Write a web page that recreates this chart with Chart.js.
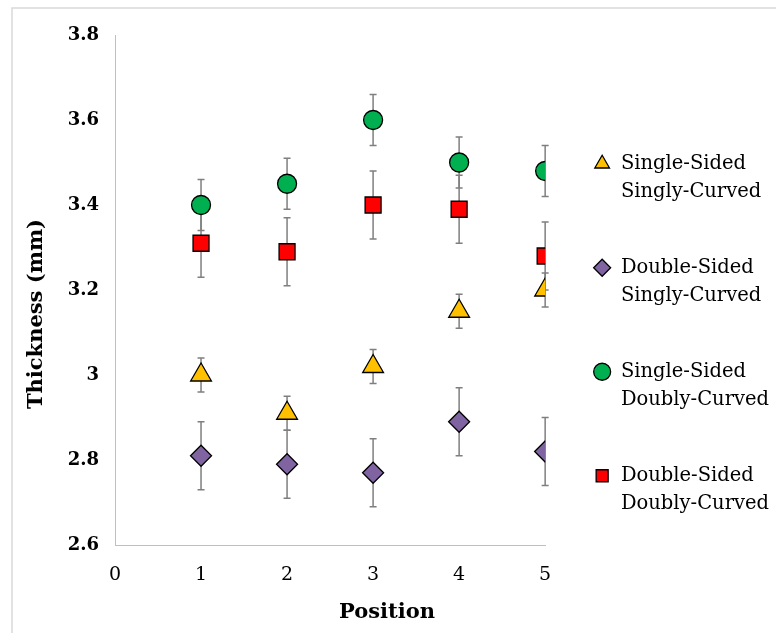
<!DOCTYPE html>
<html>
<head>
<meta charset="utf-8">
<script src="https://cdn.jsdelivr.net/npm/chart.js@4.4.0/dist/chart.umd.min.js"></script>
<style>
  html, body { margin: 0; padding: 0; background: #fff; }
  #wrap { width: 776px; height: 633px; }
</style>
</head>
<body>
<div id="wrap"><canvas id="chart" width="776" height="633"></canvas></div>
<script>
const positions = [1, 2, 3, 4, 5];

const ssscMean = [3.00, 2.91, 3.02, 3.15, 3.20];
const ssscErr = [0.04, 0.04, 0.04, 0.04, 0.04];
const dsscMean = [2.81, 2.79, 2.77, 2.89, 2.82];
const dsscErr = [0.08, 0.08, 0.08, 0.08, 0.08];
const ssdcMean = [3.40, 3.45, 3.60, 3.50, 3.48];
const ssdcErr = [0.06, 0.06, 0.06, 0.06, 0.06];
const dsdcMean = [3.31, 3.29, 3.40, 3.39, 3.28];
const dsdcErr = [0.08, 0.08, 0.08, 0.08, 0.08];

const xTicks = [0, 1, 2, 3, 4, 5];
const yTicks = [2.6, 2.8, 3.0, 3.2, 3.4, 3.6, 3.8];

const FONT = '"DejaVu Serif", Cambria, serif';

const toPoints = (means, errs) => means.map((m, i) => ({ x: positions[i], y: m, err: errs[i] }));

const series = (label, means, errs, style, color, radius) => ({
  label: label,
  data: toPoints(means, errs),
  pointStyle: style,
  backgroundColor: color,
  borderColor: '#000',
  borderWidth: 1.3,
  pointRadius: radius,
  pointHoverRadius: radius,
  showLine: false
});

// error bars drawn under the markers
const errorBars = {
  id: 'errorBars',
  beforeDatasetsDraw(chart) {
    const { ctx, scales: { x, y } } = chart;
    ctx.save();
    ctx.strokeStyle = '#7f7f7f';
    ctx.lineWidth = 1.5;
    chart.data.datasets.forEach((ds) => {
      ds.data.forEach((p) => {
        const px = x.getPixelForValue(p.x);
        const top = y.getPixelForValue(p.y + p.err);
        const bot = y.getPixelForValue(p.y - p.err);
        ctx.beginPath();
        ctx.moveTo(px, top); ctx.lineTo(px, bot);
        ctx.moveTo(px - 3.5, top); ctx.lineTo(px + 3.5, top);
        ctx.moveTo(px - 3.5, bot); ctx.lineTo(px + 3.5, bot);
        ctx.stroke();
      });
    });
    ctx.restore();
  }
};

// frame of the figure and the two axis titles
const frame = {
  id: 'frame',
  beforeDraw(chart) {
    const { ctx } = chart;
    ctx.save();
    ctx.fillStyle = '#fff';
    ctx.fillRect(0, 0, chart.width, chart.height);
    ctx.strokeStyle = '#d9d9d9';
    ctx.lineWidth = 1.5;
    ctx.beginPath();
    ctx.moveTo(12, chart.height);
    ctx.lineTo(12, 8);
    ctx.lineTo(chart.width, 8);
    ctx.stroke();
    ctx.restore();
  },
  afterDraw(chart) {
    const { ctx } = chart;
    ctx.save();
    ctx.fillStyle = '#000';
    ctx.font = 'bold 21px ' + FONT;
    ctx.textAlign = 'center';
    ctx.textBaseline = 'middle';
    ctx.fillText('Position', 387, 613);
    ctx.translate(37, 314);
    ctx.rotate(-Math.PI / 2);
    ctx.fillText('Thickness (mm)', 0, 0);
    ctx.restore();
  }
};

new Chart(document.getElementById('chart'), {
  type: 'scatter',
  data: {
    datasets: [
      series(['Single-Sided', 'Singly-Curved'], ssscMean, ssscErr, 'triangle', '#FFC000', 12),
      series(['Double-Sided', 'Singly-Curved'], dsscMean, dsscErr, 'rectRot', '#8064A2', 10.5),
      series(['Single-Sided', 'Doubly-Curved'], ssdcMean, ssdcErr, 'circle', '#00B050', 9.5),
      series(['Double-Sided', 'Doubly-Curved'], dsdcMean, dsdcErr, 'rect', '#FF0000', 11.3)
    ]
  },
  options: {
    responsive: false,
    animation: false,
    layout: { padding: { top: 35, right: -3, bottom: -8, left: 0 } },
    plugins: {
      tooltip: { enabled: false },
      legend: {
        position: 'right',
        align: 'center',
        maxWidth: 300,
        labels: {
          usePointStyle: true,
          boxWidth: 18,
          boxHeight: 12,
          padding: 48,
          color: '#000',
          font: { family: FONT, size: 19.5, lineHeight: 28 / 19.5 }
        }
      }
    },
    scales: {
      x: {
        type: 'linear',
        min: 0,
        max: 5,
        afterBuildTicks: (s) => { s.ticks = xTicks.map(v => ({ value: v })); },
        afterFit: (s) => { s.height = 96; },
        grid: { display: false, drawTicks: false },
        border: { display: true, color: '#bfbfbf', width: 1 },
        ticks: { padding: 19, color: '#000', font: { family: FONT, size: 19 } }
      },
      y: {
        type: 'linear',
        min: 2.6,
        max: 3.8,
        afterBuildTicks: (s) => { s.ticks = yTicks.map(v => ({ value: v })); },
        afterFit: (s) => { s.width = 115; },
        grid: { display: false, drawTicks: false },
        border: { display: true, color: '#bfbfbf', width: 1 },
        ticks: {
          padding: 16,
          color: '#000',
          font: { family: FONT, size: 18, weight: 'bold' },
          callback: (v) => String(Number(v.toFixed(1)))
        }
      }
    }
  },
  plugins: [errorBars, frame]
});
</script>
</body>
</html>
